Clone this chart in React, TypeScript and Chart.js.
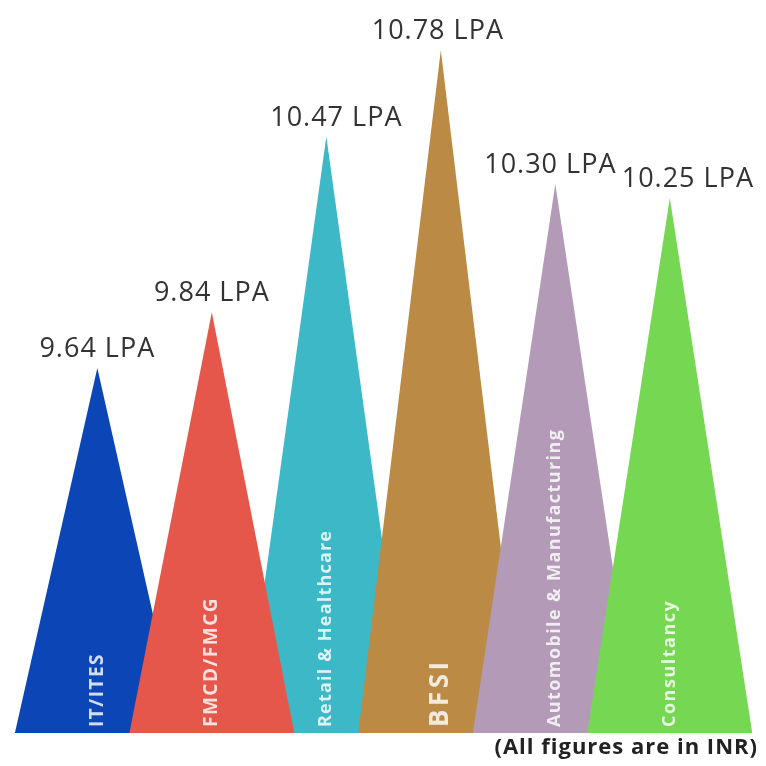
import React, { useEffect, useRef } from "react";
import { Chart, registerables } from "chart.js";

Chart.register(...registerables);

// ---- data ----
const categories = [
  "IT/ITES",
  "FMCD/FMCG",
  "Retail & Healthcare",
  "BFSI",
  "Automobile & Manufacturing",
  "Consultancy",
];
const salaries = [9.64, 9.84, 10.47, 10.78, 10.3, 10.25];
const valueLabels = ["9.64 LPA", "9.84 LPA", "10.47 LPA", "10.78 LPA", "10.30 LPA", "10.25 LPA"];
const footnote = "(All figures are in INR)";

// ---- styles ----
const fillColors = ["#0b45b6", "#e4574a", "#3cb8c6", "#bb8a44", "#b39bb7", "#76d852"];
const drawOrder = [6, 4, 5, 3, 2, 1];
const innerFontSizes = [19, 19, 18, 26, 18, 18];
const innerSpacing = [1.5, 1.5, 1.2, 3.5, 1.4, 1.5];
const labelShiftX = [0, 0, 10, -3, -5, 18];
const Y_MIN = 8.33;
const Y_MAX = 10.96;
const HALF_WIDTH = 0.72;

const labelPlugin = {
  id: "peakLabels",
  afterDatasetsDraw(chart: any) {
    const ctx = chart.ctx as CanvasRenderingContext2D;
    const area = chart.chartArea;
    chart.data.datasets.forEach((_ds: any, i: number) => {
      const meta = chart.getDatasetMeta(i);
      const apex = meta.data[1];
      if (!apex) return;
      const x = apex.x;
      const y = apex.y;
      // value label above the apex
      ctx.save();
      ctx.font = '400 27px "Open Sans", sans-serif';
      (ctx as any).letterSpacing = "1px";
      ctx.fillStyle = "#333333";
      ctx.textAlign = "center";
      ctx.textBaseline = "alphabetic";
      ctx.fillText(valueLabels[i], x + labelShiftX[i], y - 11);
      ctx.restore();
      // rotated category label at the base
      ctx.save();
      ctx.translate(x, area.bottom - 6);
      ctx.rotate(-Math.PI / 2);
      ctx.font = `700 ${innerFontSizes[i]}px "Open Sans", sans-serif`;
      (ctx as any).letterSpacing = `${innerSpacing[i]}px`;
      ctx.fillStyle = "rgba(255,255,255,0.82)";
      ctx.textAlign = "left";
      ctx.textBaseline = "middle";
      ctx.fillText(categories[i], 0, 0);
      ctx.restore();
    });
    // footnote
    ctx.save();
    ctx.font = '700 22px "Open Sans", sans-serif';
    (ctx as any).letterSpacing = "1px";
    ctx.fillStyle = "#222222";
    ctx.textAlign = "right";
    ctx.textBaseline = "middle";
    ctx.fillText(footnote, 758, 748);
    ctx.restore();
  },
};

export default function App() {
  const canvasRef = useRef<HTMLCanvasElement | null>(null);

  useEffect(() => {
    if (!canvasRef.current) return;
    const datasets = categories.map((name, i) => ({
      label: name,
      data: [
        { x: i - HALF_WIDTH, y: Y_MIN },
        { x: i, y: salaries[i] },
        { x: i + HALF_WIDTH, y: Y_MIN },
      ],
      backgroundColor: fillColors[i],
      borderColor: fillColors[i],
      borderWidth: 0,
      pointRadius: 0,
      fill: "start",
      tension: 0,
      order: drawOrder[i],
    }));
    const chart = new Chart(canvasRef.current, {
      type: "line",
      data: { datasets },
      options: {
        animation: false,
        responsive: false,
        layout: { padding: { left: 0, right: 0, top: 0, bottom: 33 } },
        scales: {
          x: { type: "linear", min: -0.85, max: 5.84, display: false },
          y: { type: "linear", min: Y_MIN, max: Y_MAX, display: false },
        },
        plugins: {
          legend: { display: false },
          tooltip: { enabled: false },
        },
        events: [],
      },
      plugins: [labelPlugin],
    } as any);
    return () => chart.destroy();
  }, []);

  return (
    <div style={{ position: "fixed", left: 0, top: 0, width: 766, height: 766, background: "#ffffff" }}>
      <canvas ref={canvasRef} width={766} height={766} style={{ display: "block" }} />
    </div>
  );
}
